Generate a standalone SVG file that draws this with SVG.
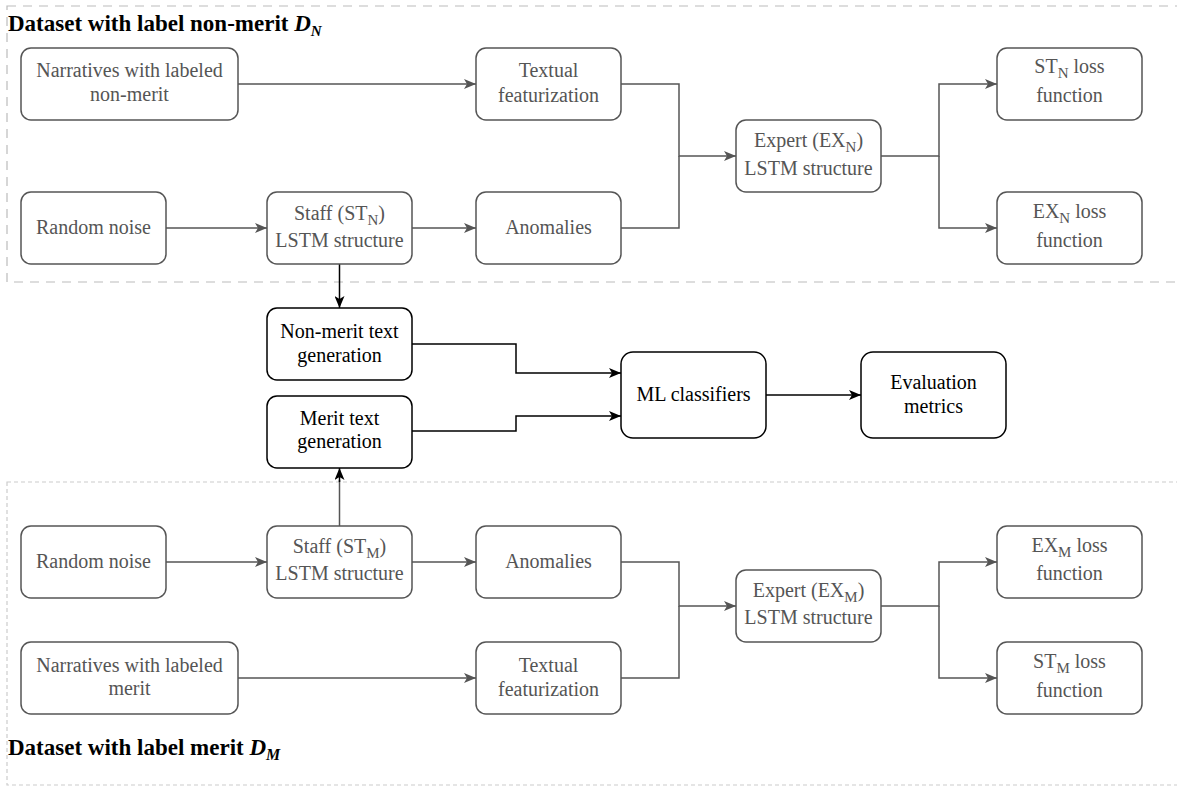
<svg xmlns="http://www.w3.org/2000/svg" width="1177" height="786" viewBox="0 0 1177 786">
<style>
.g rect{fill:#fff;stroke:#555;stroke-width:1.5}
.g text{font-family:"Liberation Serif","Times New Roman",serif;font-size:20px;fill:#555;text-anchor:middle}
.k rect{fill:#fff;stroke:#000;stroke-width:1.5}
.k text{font-family:"Liberation Serif","Times New Roman",serif;font-size:20px;fill:#000;text-anchor:middle}
.sub{font-size:15px}
.title{font-family:"Liberation Serif","Times New Roman",serif;font-size:23px;font-weight:bold;fill:#000}
.cg{fill:none;stroke:#555;stroke-width:1.5}
.ck{fill:none;stroke:#000;stroke-width:1.5}
</style>
<defs>
<marker id="ag" viewBox="0 0 12 10" refX="12" refY="5" markerWidth="12" markerHeight="10" markerUnits="userSpaceOnUse" orient="auto"><path d="M0,0 L12,5 L0,10 L3,5 z" fill="#555"/></marker>
<marker id="ak" viewBox="0 0 12 10" refX="12" refY="5" markerWidth="12" markerHeight="10" markerUnits="userSpaceOnUse" orient="auto"><path d="M0,0 L12,5 L0,10 L3,5 z" fill="#000"/></marker>
</defs>
<rect width="1177" height="786" fill="#fff"/>
<g id="groups">
<rect x="7" y="6" width="1190" height="276" fill="none" stroke="#bbb" stroke-width="1.2" stroke-dasharray="9 7"/>
<rect x="7" y="482" width="1190" height="303" fill="none" stroke="#ccc" stroke-width="1.2" stroke-dasharray="4 3"/>
<text class="title" x="8" y="31">Dataset with label non-merit <tspan font-style="italic">D<tspan class="sub" font-size="16" dy="5">N</tspan></tspan></text>
<text class="title" x="8" y="755">Dataset with label merit <tspan font-style="italic">D<tspan font-size="16" dy="5">M</tspan></tspan></text>
</g>
<g id="connectors">
<path class="cg" d="M238,84 H476" marker-end="url(#ag)"/>
<path class="cg" d="M166,228 H267" marker-end="url(#ag)"/>
<path class="cg" d="M412,228 H476" marker-end="url(#ag)"/>
<path class="cg" d="M621,84 H679 V156 H736" marker-end="url(#ag)"/>
<path class="cg" d="M621,228 H679 V156"/>
<path class="cg" d="M881,156 H939 V84 H997" marker-end="url(#ag)"/>
<path class="cg" d="M939,156 V228 H997" marker-end="url(#ag)"/>
<path class="ck" d="M339.5,264 V308" marker-end="url(#ak)"/>
<path class="ck" d="M412,344 H516 V373 H621" marker-end="url(#ak)"/>
<path class="ck" d="M412,431 H516 V416 H621" marker-end="url(#ak)"/>
<path class="ck" d="M766,395 H861" marker-end="url(#ak)"/>
<path class="cg" d="M339.5,526 V480"/>
<path class="ck" d="M339.5,482 V468" marker-end="url(#ak)"/>
<path class="cg" d="M166,562 H267" marker-end="url(#ag)"/>
<path class="cg" d="M412,562 H476" marker-end="url(#ag)"/>
<path class="cg" d="M238,678 H476" marker-end="url(#ag)"/>
<path class="cg" d="M621,562 H679 V606 H736" marker-end="url(#ag)"/>
<path class="cg" d="M621,678 H679 V606"/>
<path class="cg" d="M881,606 H939 V562 H997" marker-end="url(#ag)"/>
<path class="cg" d="M939,606 V678 H997" marker-end="url(#ag)"/>
</g>
<g id="n_narr_n" class="g"><rect x="21" y="48" width="217" height="72" rx="10"/><text x="129.5" y="77">Narratives with labeled</text><text x="129.5" y="101">non-merit</text></g>
<g id="n_noise_n" class="g"><rect x="21" y="192" width="145" height="72" rx="10"/><text x="93.5" y="234">Random noise</text></g>
<g id="n_staff_n" class="g"><rect x="267" y="192" width="145" height="72" rx="10"/><text x="339.5" y="220">Staff (ST<tspan class="sub" dy="5">N</tspan><tspan dy="-5">)</tspan></text><text x="339.5" y="247">LSTM structure</text></g>
<g id="n_text_n" class="g"><rect x="476" y="48" width="145" height="72" rx="10"/><text x="548.5" y="77">Textual</text><text x="548.5" y="102">featurization</text></g>
<g id="n_anom_n" class="g"><rect x="476" y="192" width="145" height="72" rx="10"/><text x="548.5" y="234">Anomalies</text></g>
<g id="n_exp_n" class="g"><rect x="736" y="120" width="145" height="72" rx="10"/><text x="808.5" y="147">Expert (EX<tspan class="sub" dy="5">N</tspan><tspan dy="-5">)</tspan></text><text x="808.5" y="175">LSTM structure</text></g>
<g id="n_stloss_n" class="g"><rect x="997" y="48" width="145" height="72" rx="10"/><text x="1069.5" y="73">ST<tspan class="sub" dy="5">N</tspan><tspan dy="-5"> loss</tspan></text><text x="1069.5" y="102">function</text></g>
<g id="n_exloss_n" class="g"><rect x="997" y="192" width="145" height="72" rx="10"/><text x="1069.5" y="218">EX<tspan class="sub" dy="5">N</tspan><tspan dy="-5"> loss</tspan></text><text x="1069.5" y="247">function</text></g>
<g id="n_gen_n" class="k"><rect x="267" y="308" width="145" height="72" rx="10"/><text x="339.5" y="338">Non-merit text</text><text x="339.5" y="362">generation</text></g>
<g id="n_gen_m" class="k"><rect x="267" y="396" width="145" height="72" rx="10"/><text x="339.5" y="425">Merit text</text><text x="339.5" y="448">generation</text></g>
<g id="n_ml" class="k"><rect x="621" y="352" width="145" height="86" rx="12"/><text x="693.5" y="401">ML classifiers</text></g>
<g id="n_eval" class="k"><rect x="861" y="352" width="145" height="86" rx="12"/><text x="933.5" y="389">Evaluation</text><text x="933.5" y="413">metrics</text></g>
<g id="n_noise_m" class="g"><rect x="21" y="526" width="145" height="72" rx="10"/><text x="93.5" y="568">Random noise</text></g>
<g id="n_staff_m" class="g"><rect x="267" y="526" width="145" height="72" rx="10"/><text x="339.5" y="553">Staff (ST<tspan class="sub" dy="5">M</tspan><tspan dy="-5">)</tspan></text><text x="339.5" y="580">LSTM structure</text></g>
<g id="n_anom_m" class="g"><rect x="476" y="526" width="145" height="72" rx="10"/><text x="548.5" y="568">Anomalies</text></g>
<g id="n_narr_m" class="g"><rect x="21" y="642" width="217" height="72" rx="10"/><text x="129.5" y="672">Narratives with labeled</text><text x="129.5" y="695">merit</text></g>
<g id="n_text_m" class="g"><rect x="476" y="642" width="145" height="72" rx="10"/><text x="548.5" y="672">Textual</text><text x="548.5" y="696">featurization</text></g>
<g id="n_exp_m" class="g"><rect x="736" y="570" width="145" height="72" rx="10"/><text x="808.5" y="597">Expert (EX<tspan class="sub" dy="5">M</tspan><tspan dy="-5">)</tspan></text><text x="808.5" y="624">LSTM structure</text></g>
<g id="n_exloss_m" class="g"><rect x="997" y="526" width="145" height="72" rx="10"/><text x="1069.5" y="552">EX<tspan class="sub" dy="5">M</tspan><tspan dy="-5"> loss</tspan></text><text x="1069.5" y="580">function</text></g>
<g id="n_stloss_m" class="g"><rect x="997" y="642" width="145" height="72" rx="10"/><text x="1069.5" y="668">ST<tspan class="sub" dy="5">M</tspan><tspan dy="-5"> loss</tspan></text><text x="1069.5" y="697">function</text></g>
</svg>
